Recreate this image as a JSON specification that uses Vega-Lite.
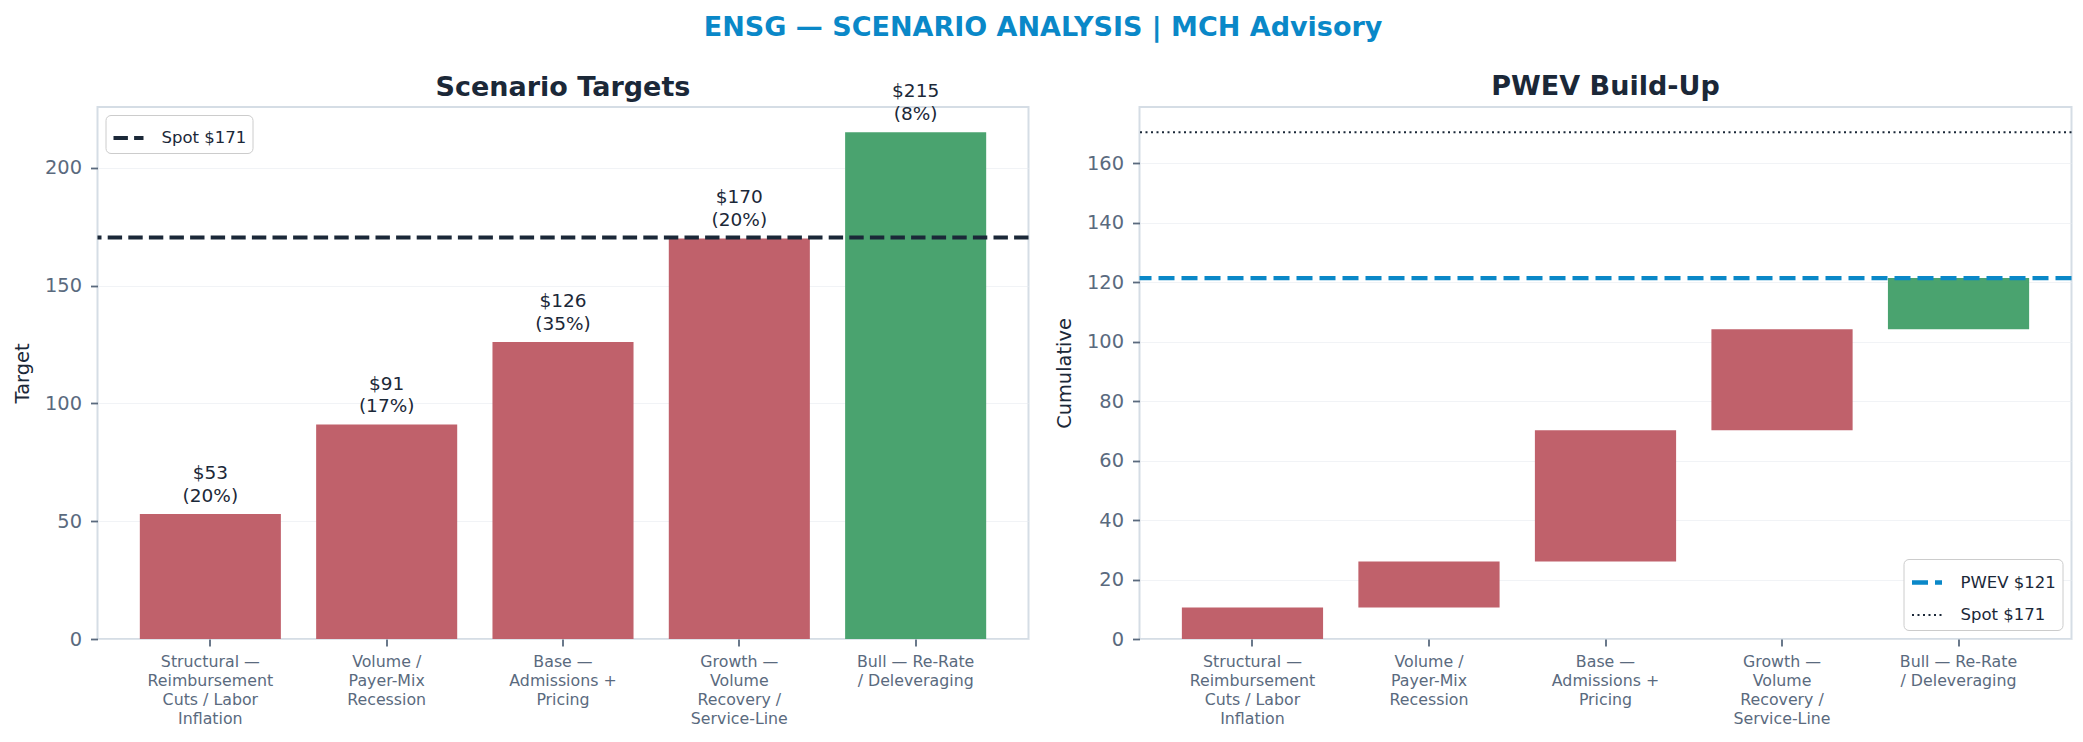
{
  "$schema": "https://vega.github.io/schema/vega-lite/v6.json",
  "background": "white",
  "padding": {"left": 10.5, "top": 14, "right": 10, "bottom": 5},
  "title": {
    "text": "ENSG — SCENARIO ANALYSIS | MCH Advisory",
    "fontSize": 27,
    "fontWeight": "bold",
    "color": "#0a88c8",
    "anchor": "middle",
    "offset": 30
  },
  "datasets": {
    "scenarios": [
      {"scenario": "Structural —\nReimbursement\nCuts / Labor\nInflation", "target": 53, "prob": 20, "label": "$53\n(20%)", "start": 0, "end": 10.6},
      {"scenario": "Volume /\nPayer-Mix\nRecession", "target": 91, "prob": 17, "label": "$91\n(17%)", "start": 10.6, "end": 26.07},
      {"scenario": "Base —\nAdmissions +\nPricing", "target": 126, "prob": 35, "label": "$126\n(35%)", "start": 26.07, "end": 70.17},
      {"scenario": "Growth —\nVolume\nRecovery /\nService-Line", "target": 170, "prob": 20, "label": "$170\n(20%)", "start": 70.17, "end": 104.17},
      {"scenario": "Bull — Re-Rate\n/ Deleveraging", "target": 215, "prob": 8, "label": "$215\n(8%)", "start": 104.17, "end": 121.37}
    ],
    "refs": [
      {"name": "PWEV $121", "value": 121.37},
      {"name": "Spot $171", "value": 170.4}
    ]
  },
  "spacing": 21,
  "hconcat": [
    {
      "title": {"text": "Scenario Targets", "fontSize": 27, "fontWeight": "bold", "color": "#1b2838", "offset": -20},
      "width": 931,
      "height": 532,
      "layer": [
        {
          "data": {"name": "scenarios"},
          "mark": {"type": "bar"},
          "encoding": {
            "x": {
              "field": "scenario", "type": "nominal", "sort": null, "title": null,
              "scale": {"paddingInner": 0.2, "paddingOuter": 0.24},
              "axis": {"labelAngle": 0, "labelExpr": "split(datum.value, '\\n')"}
            },
            "y": {
              "field": "target", "type": "quantitative", "title": "Target",
              "scale": {"domain": [0, 225.75], "nice": false},
              "axis": {"values": [0, 50, 100, 150, 200]}
            },
            "color": {
              "condition": {"test": "datum.target > 200", "value": "#4aa36f"},
              "value": "#c0616b"
            }
          }
        },
        {
          "data": {"name": "scenarios"},
          "mark": {"type": "text", "baseline": "bottom", "align": "center", "dy": -31, "fontSize": 18.5, "color": "#1b2838", "lineBreak": "\n", "lineHeight": 22.5},
          "encoding": {
            "x": {"field": "scenario", "type": "nominal", "sort": null},
            "y": {"field": "target", "type": "quantitative"},
            "text": {"field": "label"}
          }
        },
        {
          "data": {"name": "refs"},
          "transform": [{"filter": "datum.name == 'Spot $171'"}],
          "mark": {"type": "rule", "color": "#1b2838", "strokeWidth": 3.9},
          "encoding": {
            "y": {"field": "value", "type": "quantitative"},
            "strokeDash": {
              "field": "name", "type": "nominal",
              "scale": {"domain": ["Spot $171"], "range": [[14.4, 6.2]]},
              "legend": {"title": null, "orient": "top-left", "offset": 8, "symbolStrokeColor": "#1b2838", "symbolStrokeWidth": 3.9}
            }
          }
        }
      ],
      "resolve": {"scale": {"strokeDash": "independent"}}
    },
    {
      "title": {"text": "PWEV Build-Up", "fontSize": 27, "fontWeight": "bold", "color": "#1b2838", "offset": 6},
      "width": 932,
      "height": 532,
      "layer": [
        {
          "data": {"name": "scenarios"},
          "mark": {"type": "bar"},
          "encoding": {
            "x": {
              "field": "scenario", "type": "nominal", "sort": null, "title": null,
              "scale": {"paddingInner": 0.2, "paddingOuter": 0.24},
              "axis": {"labelAngle": 0, "labelExpr": "split(datum.value, '\\n')"}
            },
            "y": {
              "field": "start", "type": "quantitative", "title": "Cumulative",
              "scale": {"domain": [0, 178.9], "nice": false},
              "axis": {"values": [0, 20, 40, 60, 80, 100, 120, 140, 160]}
            },
            "y2": {"field": "end"},
            "color": {
              "condition": {"test": "datum.target > 200", "value": "#4aa36f"},
              "value": "#c0616b"
            }
          }
        },
        {
          "data": {"name": "refs"},
          "mark": {"type": "rule"},
          "encoding": {
            "y": {"field": "value", "type": "quantitative"},
            "color": {
              "field": "name", "type": "nominal",
              "scale": {"domain": ["PWEV $121", "Spot $171"], "range": ["#0a88c8", "#1b2838"]},
              "legend": {"title": null, "orient": "bottom-right", "offset": 9, "rowPadding": 7}
            },
            "strokeDash": {
              "field": "name", "type": "nominal",
              "scale": {"domain": ["PWEV $121", "Spot $171"], "range": [[16, 7], [2, 3.5]]}
            },
            "strokeWidth": {
              "field": "name", "type": "nominal",
              "scale": {"domain": ["PWEV $121", "Spot $171"], "range": [4.3, 2]}
            }
          }
        }
      ]
    }
  ],
  "resolve": {"scale": {"color": "independent", "strokeDash": "independent", "strokeWidth": "independent", "y": "independent"}, "legend": {"strokeDash": "independent", "color": "independent"}},
  "config": {
    "font": "DejaVu Sans",
    "view": {"stroke": "#d5dde5", "strokeWidth": 2},
    "axis": {
      "domain": false,
      "zindex": 1,
      "gridColor": "#e6eaef",
      "gridOpacity": 0.55,
      "tickColor": "#5a6a7e",
      "tickSize": 7,
      "tickWidth": 1.8,
      "labelColor": "#5a6a7e",
      "titleColor": "#1b2838",
      "titleFontWeight": "normal",
      "titleFontSize": 19.4
    },
    "axisY": {"labelFontSize": 19.4, "labelPadding": 9, "titlePadding": 12},
    "axisX": {"labelFontSize": 15.8, "labelLineHeight": 19, "labelPadding": 8, "grid": false},
    "legend": {
      "fillColor": "white",
      "strokeColor": "#cccccc",
      "cornerRadius": 5,
      "padding": 6,
      "labelFontSize": 16.5,
      "labelColor": "#1b2838",
      "labelOffset": 16,
      "symbolType": "stroke",
      "symbolSize": 900
    }
  }
}
